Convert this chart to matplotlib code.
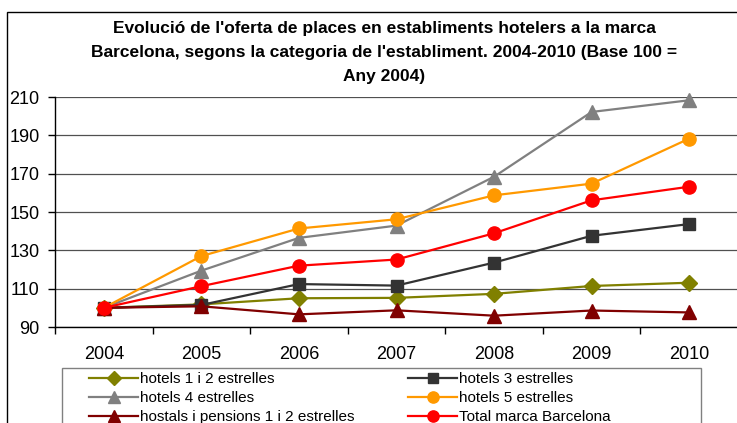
import matplotlib
matplotlib.use("Agg")
import matplotlib.pyplot as plt
from matplotlib.patches import Rectangle

years = ["2004", "2005", "2006", "2007", "2008", "2009", "2010"]
hotels_1_2 = [100, 101.8, 105.0, 105.2, 107.3, 111.4, 113.1]
hotels_3 = [100, 101.5, 112.4, 111.6, 123.6, 137.6, 143.7]
hotels_4 = [100, 119.4, 136.5, 142.9, 168.4, 202.2, 208.3]
hotels_5 = [100, 127.0, 141.4, 146.2, 158.7, 164.8, 188.3]
hostals = [100, 100.8, 96.6, 98.7, 95.9, 98.6, 97.6]
total = [100, 111.3, 122.0, 125.2, 138.9, 156.1, 163.2]

labels = ["hotels 1 i 2 estrelles", "hotels 3 estrelles", "hotels 4 estrelles",
          "hotels 5 estrelles", "hostals i pensions 1 i 2 estrelles", "Total marca Barcelona"]
yticks = [90, 110, 130, 150, 170, 190, 210]

plt.rcParams['font.family'] = ['Liberation Sans', 'DejaVu Sans']

W, H = 737, 423
fig = plt.figure(figsize=(W / 100, H / 100), dpi=100)

def fx(px):
    return px / W

def fy(py):
    return 1 - py / H

# outer chart border
fig.patches.append(Rectangle((fx(7), fy(470)), fx(800), fy(12) - fy(470),
                             transform=fig.transFigure, fill=False,
                             edgecolor='black', linewidth=1.0, clip_on=False))

# title
title_lines = ["Evolució de l'oferta de places en establiments hotelers a la marca",
               "Barcelona, segons la categoria de l'establiment. 2004-2010 (Base 100 =",
               "Any 2004)"]
for i, t in enumerate(title_lines):
    fig.text(fx(384), fy(28 + 24 * i), t, ha='center', va='center',
             fontsize=12.5, fontweight='bold')

ax = fig.add_axes([fx(55), fy(327), fx(738) - fx(55), fy(97) - fy(327)])
x = list(range(len(years)))

series = [
    (hotels_1_2, '#808000', 'D', 8.5),
    (hotels_3, '#333333', 's', 8.5),
    (hotels_4, '#808080', '^', 9.5),
    (hotels_5, '#FF9900', 'o', 9.5),
    (hostals, '#800000', '^', 9.5),
    (total, '#FF0000', 'o', 9.5),
]
handles = []
for (vals, col, mk, ms), lab in zip(series, labels):
    h, = ax.plot(x, vals, color=col, marker=mk, markersize=ms, linewidth=1.6,
                 label=lab, zorder=3, clip_on=False)
    handles.append(h)

ax.set_xlim(-0.5, len(years) - 0.5)
ax.set_ylim(90, 210)
ax.set_yticks(yticks)
ax.set_yticklabels([str(v) for v in yticks], fontsize=13)
ax.yaxis.grid(True, color='#505050', linewidth=0.9)
ax.set_axisbelow(True)

ax.set_xticks([i - 0.5 for i in range(len(years) + 1)])
ax.set_xticklabels([])
ax.set_xticks(x, minor=True)
ax.set_xticklabels(years, minor=True, fontsize=13)
ax.tick_params(axis='x', which='major', direction='out', length=5, width=1)
ax.tick_params(axis='x', which='minor', length=0, pad=14)
ax.tick_params(axis='y', direction='out', length=5, width=1, pad=6)

for s in ['top', 'right']:
    ax.spines[s].set_visible(False)
ax.spines['left'].set_linewidth(1)
ax.spines['bottom'].set_linewidth(1)

# legend frame
fig.patches.append(Rectangle((fx(62), fy(470)), fx(701) - fx(62), fy(368) - fy(470),
                             transform=fig.transFigure, fill=False,
                             edgecolor='#808080', linewidth=1.0, clip_on=False))

order = [0, 2, 4, 1, 3, 5]
leg = fig.legend([handles[i] for i in order], [labels[i] for i in order],
                 loc='upper left', bbox_to_anchor=(fx(86), fy(369)),
                 ncol=2, frameon=False, fontsize=11, handlelength=3.2,
                 handletextpad=0.15, columnspacing=3.5, labelspacing=0.34,
                 borderpad=0.2, borderaxespad=0, markerscale=0.85)

fig.savefig("out.png", dpi=100)
